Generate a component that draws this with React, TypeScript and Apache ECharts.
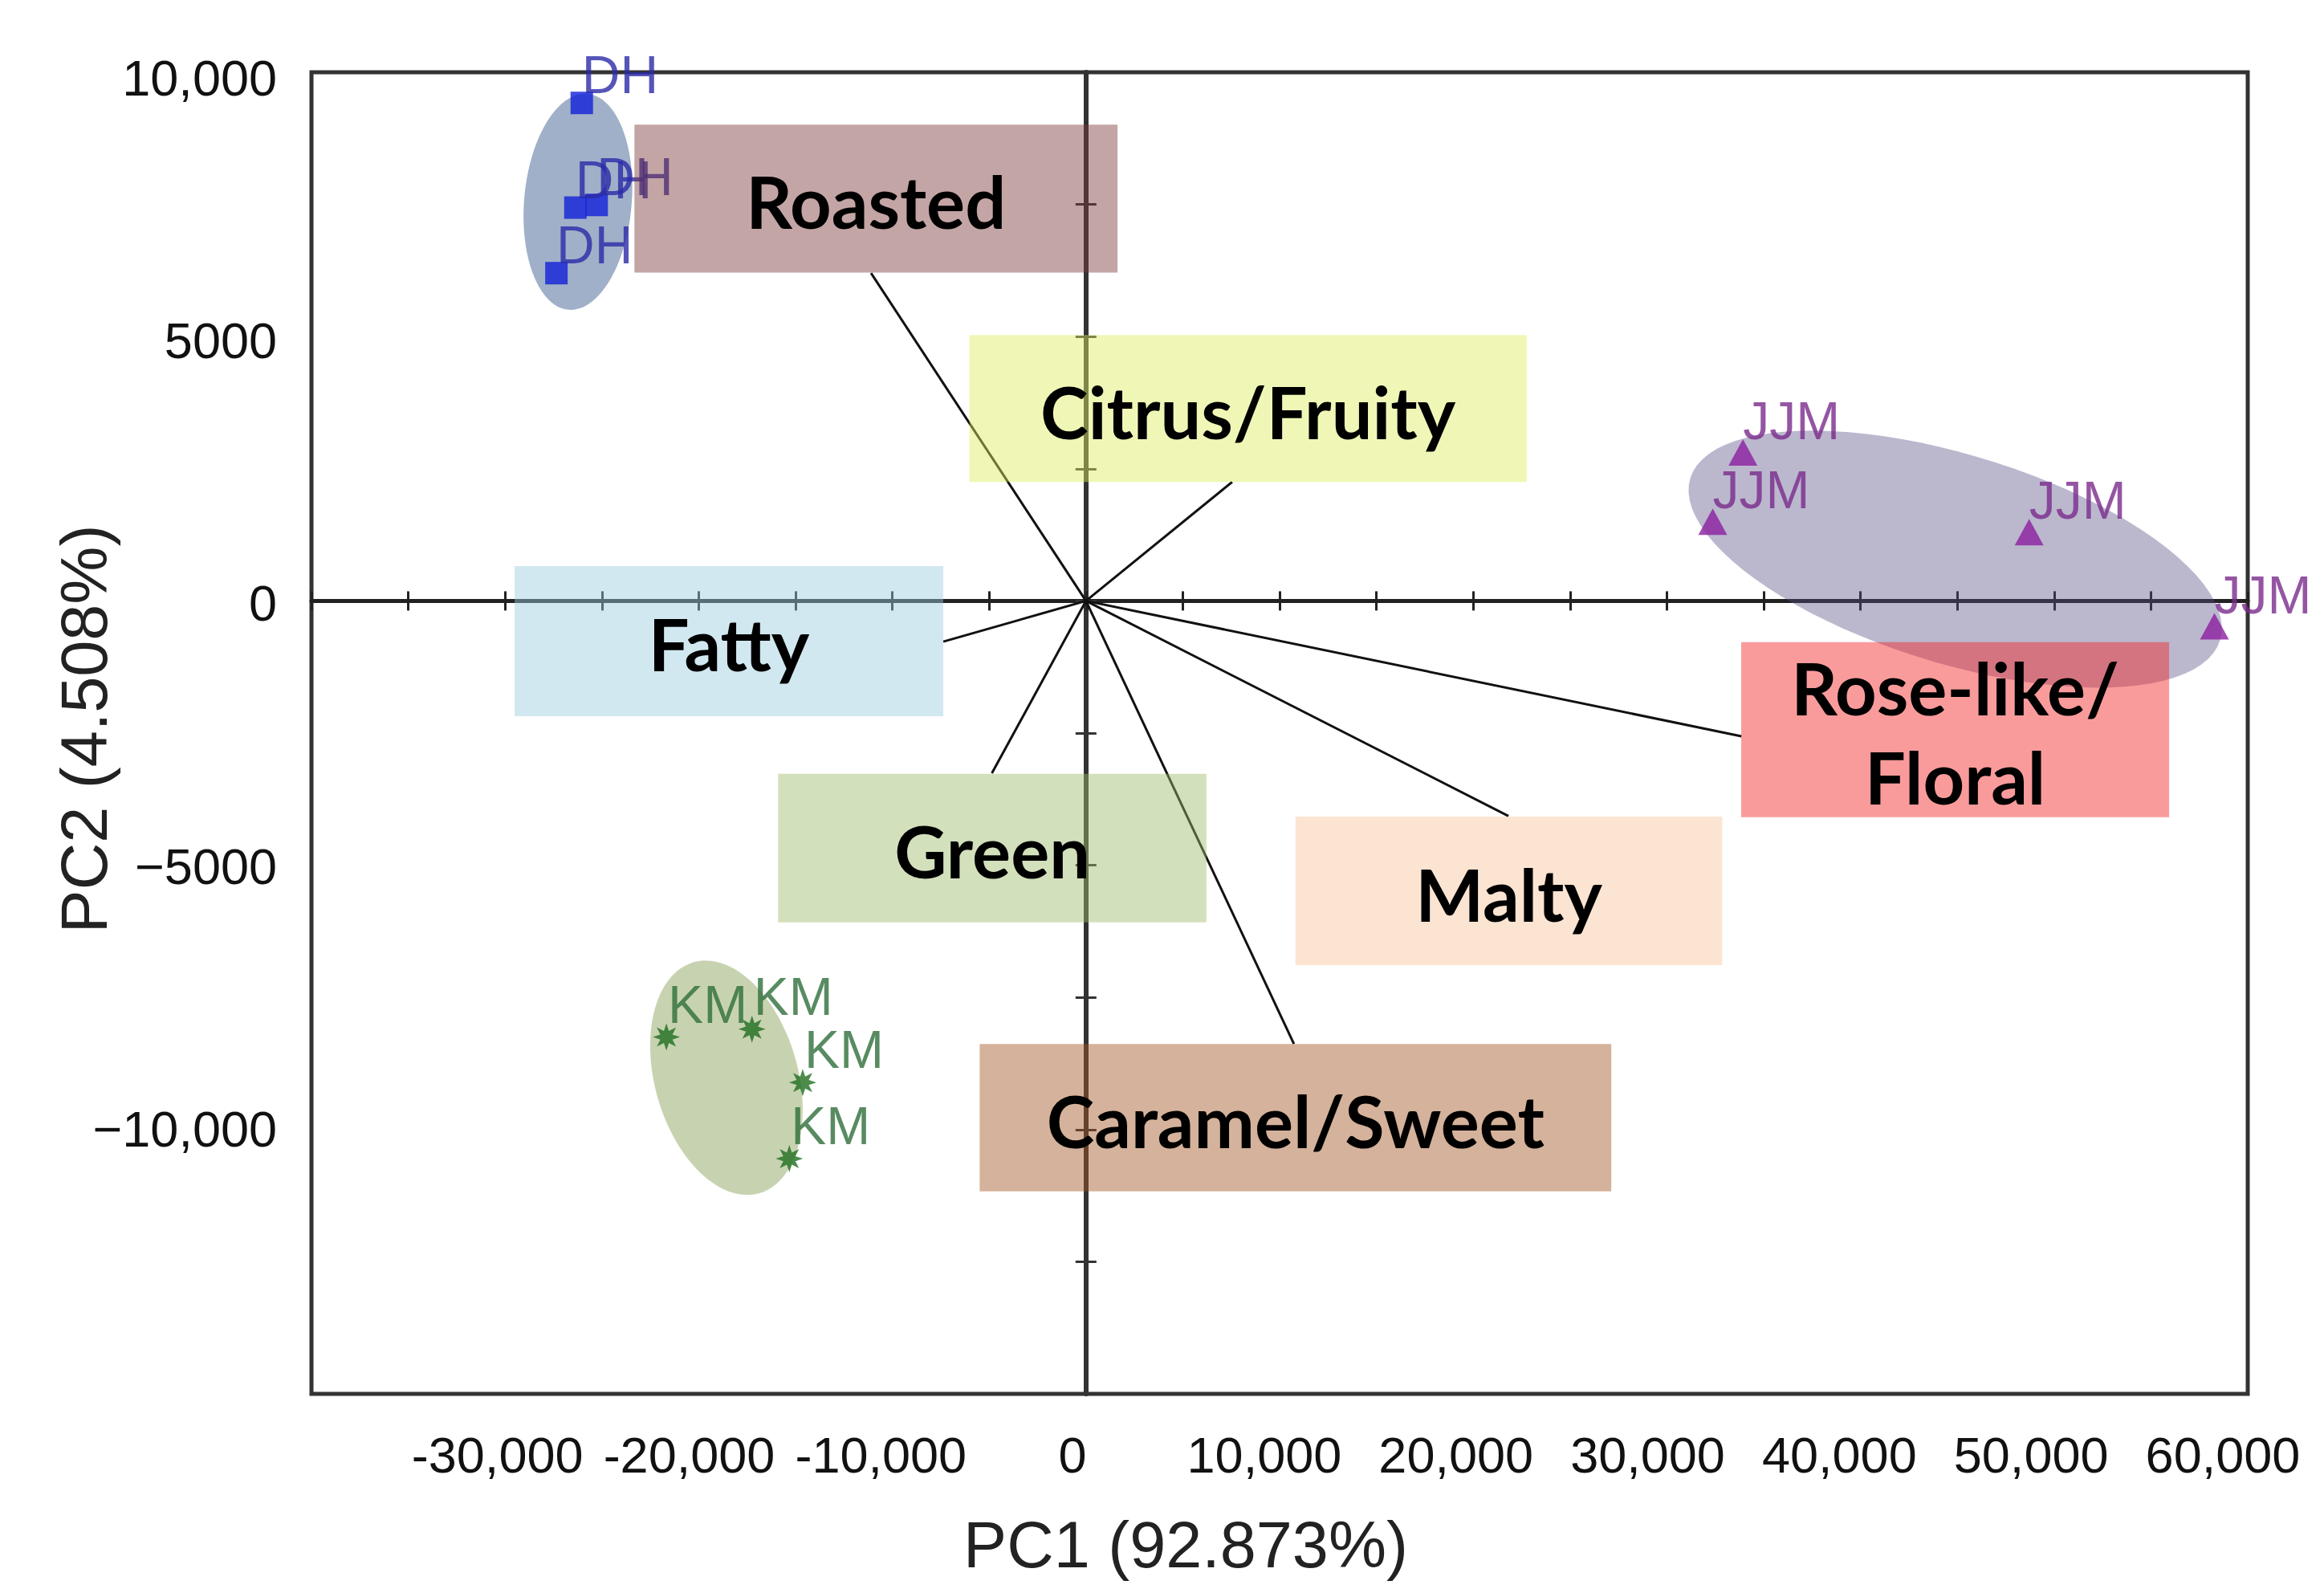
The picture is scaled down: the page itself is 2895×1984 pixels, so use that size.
import React, { useEffect, useRef } from "react";
import * as echarts from "echarts";

// ---- axis tick labels ----
const X_TICK_LABELS = [-30000, -20000, -10000, 0, 10000, 20000, 30000, 40000, 50000, 60000];
const Y_TICK_LABELS = [-10000, -5000, 0, 5000, 10000];

// ---- sample scores (PC1, PC2) ----
const DH_PC1 = [-26040, -26370, -25270, -27350];
const DH_PC2 = [9420, 7440, 7490, 6200];
const JJM_PC1 = [33930, 32370, 48710, 58280];
const JJM_PC2 = [2810, 1500, 1300, -480];
const KM_PC1 = [-21670, -17250, -14630, -15320];
const KM_PC2 = [-8250, -8100, -9110, -10550];

// ---- attribute loadings (vector end points) ----
const ATTRIBUTES = ["Roasted", "Citrus/Fruity", "Fatty", "Green", "Caramel/Sweet", "Malty", "Rose-like/\nFloral"];
const LOAD_PC1 = [-11100, 7550, -7370, -4860, 10740, 21820, 33850];
const LOAD_PC2 = [6200, 2250, -770, -3260, -8380, -4070, -2560];

// ---- attribute label boxes (data units) ----
const BOX_LEFT = [-23320, -6020, -29510, -15900, -5490, 10820, 33840];
const BOX_RIGHT = [1630, 22760, -7370, 6220, 27130, 32860, 55940];
const BOX_TOP = [9010, 5030, 660, -3270, -8380, -4080, -780];
const BOX_BOTTOM = [6210, 2250, -2180, -6080, -11170, -6890, -4090];

// ---- group ellipses: centre + two conjugate half-axis vectors (data units) ----
const ELL_GROUPS = ["DH", "JJM", "KM"];
const ELL_CX = [-26240, 44890, -18570];
const ELL_CY = [7550, 790, -9020];
const ELL_UX = [490, 13680, 1689];
const ELL_UY = [2043, -1532, -2186];
const ELL_VX = [2766, -1576, -3558];
const ELL_VY = [-89, -1888, -369];

const ELL_COLORS = ["rgba(18,58,118,0.4)", "rgba(85,78,133,0.4)", "rgba(115,145,58,0.4)"];
const BOX_COLORS = [
  "rgba(124,55,55,0.45)",
  "rgba(222,237,93,0.45)",
  "rgba(155,204,222,0.45)",
  "rgba(157,186,106,0.45)",
  "rgba(162,84,33,0.45)",
  "rgba(248,195,155,0.45)",
  "rgba(244,33,33,0.45)",
];

const LABEL_FONT = "Liberation Sans";

function asteriskPath(): string {
  const pts: string[] = [];
  const n = 16;
  for (let i = 0; i < n; i++) {
    const a = (i * Math.PI) / 8 - Math.PI / 2;
    const r = i % 2 === 0 ? 50 : 24;
    const x = 50 + r * Math.cos(a);
    const y = 50 + r * Math.sin(a);
    pts.push((i === 0 ? "M" : "L") + x.toFixed(2) + " " + y.toFixed(2));
  }
  return "path://" + pts.join(" ") + " Z";
}

function fmtX(v: number): string {
  if (v === 0) return "0";
  return (v < 0 ? "-" : "") + Math.abs(v).toLocaleString("en-US");
}
function fmtY(v: number): string {
  if (v === 0) return "0";
  const a = Math.abs(v);
  const s = a >= 10000 ? a.toLocaleString("en-US") : String(a);
  return (v < 0 ? "\u2212" : "") + s;
}

export default function App() {
  const ref = useRef<HTMLDivElement>(null);

  useEffect(() => {
    if (!ref.current) return;
    const chart = echarts.init(ref.current, undefined, { renderer: "svg" });

    const zip = (xs: number[], ys: number[]) => xs.map((x, i) => [x, ys[i]]);

    const scatterLabel = (color: string, pos: number[]) => ({
      show: true,
      formatter: (p: any) => p.seriesName,
      position: pos,
      align: "left",
      verticalAlign: "bottom",
      color,
      fontSize: 66,
      fontFamily: LABEL_FONT,
    });

    const option: any = {
      animation: false,
      backgroundColor: "#ffffff",
      grid: {
        left: 388,
        top: 90,
        width: 2412,
        height: 1646,
        show: true,
        borderColor: "#333",
        borderWidth: 5,
        containLabel: false,
      },
      xAxis: [
        {
          type: "value",
          min: -40000,
          max: 60000,
          interval: 5000,
          position: "bottom",
          axisLine: { show: true, onZero: true, onZeroAxisIndex: 0, lineStyle: { color: "#222", width: 5 } },
          axisTick: { show: true, inside: true, length: 12, lineStyle: { color: "#222", width: 3 } },
          axisLabel: { show: false },
          splitLine: { show: false },
        },
        {
          type: "value",
          min: -39700,
          max: 61300,
          position: "bottom",
          axisLine: { show: false, onZero: false },
          axisTick: { show: false },
          splitLine: { show: false },
          axisLabel: {
            show: true,
            customValues: X_TICK_LABELS,
            formatter: fmtX,
            fontSize: 63,
            fontFamily: LABEL_FONT,
            color: "#111",
            margin: 44,
          },
        },
        {
          type: "value",
          min: -40000,
          max: 60000,
          interval: 5000,
          position: "bottom",
          axisLine: { show: false, onZero: true, onZeroAxisIndex: 0 },
          axisTick: { show: true, inside: false, length: 12, lineStyle: { color: "#222", width: 3 } },
          axisLabel: { show: false },
          splitLine: { show: false },
        },
      ],
      yAxis: [
        {
          type: "value",
          min: -15000,
          max: 10000,
          interval: 2500,
          position: "left",
          axisLine: { show: true, onZero: true, onZeroAxisIndex: 0, lineStyle: { color: "#333", width: 6 } },
          axisTick: { show: true, inside: true, length: 13, lineStyle: { color: "#333", width: 3 } },
          axisLabel: { show: false },
          splitLine: { show: false },
        },
        {
          type: "value",
          min: -15050,
          max: 10110,
          position: "left",
          axisLine: { show: false, onZero: false },
          axisTick: { show: false },
          splitLine: { show: false },
          axisLabel: {
            show: true,
            customValues: Y_TICK_LABELS,
            formatter: fmtY,
            fontSize: 63,
            fontFamily: LABEL_FONT,
            color: "#111",
            margin: 43,
          },
        },
        {
          type: "value",
          min: -15000,
          max: 10000,
          interval: 2500,
          position: "left",
          axisLine: { show: false, onZero: true, onZeroAxisIndex: 0 },
          axisTick: { show: true, inside: false, length: 13, lineStyle: { color: "#333", width: 3 } },
          axisLabel: { show: false },
          splitLine: { show: false },
        },
      ],
      graphic: [
        {
          type: "text",
          x: 1477,
          y: 1924,
          style: {
            text: "PC1 (92.873%)",
            fontSize: 81,
            fontFamily: LABEL_FONT,
            fill: "#222",
            align: "center",
            verticalAlign: "middle",
          },
        },
        {
          type: "text",
          x: 105,
          y: 908,
          rotation: Math.PI / 2,
          style: {
            text: "PC2 (4.508%)",
            fontSize: 81,
            fontFamily: LABEL_FONT,
            fill: "#222",
            align: "center",
            verticalAlign: "middle",
          },
        },
      ],
      series: [
        {
          type: "custom",
          name: "ellipses",
          z: 1,
          silent: true,
          data: ELL_GROUPS.map((g, i) => [ELL_CX[i], ELL_CY[i], ELL_UX[i], ELL_UY[i], ELL_VX[i], ELL_VY[i]]),
          renderItem: (params: any, api: any) => {
            const cx = api.value(0), cy = api.value(1);
            const ux = api.value(2), uy = api.value(3);
            const vx = api.value(4), vy = api.value(5);
            const pts: number[][] = [];
            for (let k = 0; k < 90; k++) {
              const t = (2 * Math.PI * k) / 90;
              pts.push(api.coord([cx + ux * Math.cos(t) + vx * Math.sin(t), cy + uy * Math.cos(t) + vy * Math.sin(t)]));
            }
            return { type: "polygon", shape: { points: pts }, style: { fill: ELL_COLORS[params.dataIndex] } };
          },
        },
        {
          type: "custom",
          name: "loadings",
          z: 2,
          silent: true,
          data: zip(LOAD_PC1, LOAD_PC2),
          renderItem: (params: any, api: any) => {
            const o = api.coord([0, 0]);
            const e = api.coord([api.value(0), api.value(1)]);
            return {
              type: "line",
              shape: { x1: o[0], y1: o[1], x2: e[0], y2: e[1] },
              style: { stroke: "#111", lineWidth: 3 },
            };
          },
        },
        {
          type: "scatter",
          name: "DH",
          z: 3,
          data: zip(DH_PC1, DH_PC2),
          symbol: "rect",
          symbolSize: 28,
          itemStyle: { color: "#1020d8" },
          label: scatterLabel("#2a2aa8", [14, 12]),
        },
        {
          type: "scatter",
          name: "JJM",
          z: 3,
          data: zip(JJM_PC1, JJM_PC2),
          symbol: "triangle",
          symbolSize: [36, 33],
          itemStyle: { color: "#8c1ea0" },
          label: scatterLabel("#7a2a8c", [18, 10]),
        },
        {
          type: "scatter",
          name: "KM",
          z: 3,
          data: zip(KM_PC1, KM_PC2),
          symbol: asteriskPath(),
          symbolSize: 34,
          itemStyle: { color: "#1f6e1f" },
          label: scatterLabel("#2e6e3a", [19, 9]),
        },
        {
          type: "custom",
          name: "attributes",
          z: 4,
          silent: true,
          data: ATTRIBUTES.map((a, i) => [BOX_LEFT[i], BOX_TOP[i], BOX_RIGHT[i], BOX_BOTTOM[i]]),
          renderItem: (params: any, api: any) => {
            const i = params.dataIndex;
            const p0 = api.coord([api.value(0), api.value(1)]);
            const p1 = api.coord([api.value(2), api.value(3)]);
            return {
              type: "group",
              children: [
                {
                  type: "rect",
                  shape: { x: p0[0], y: p0[1], width: p1[0] - p0[0], height: p1[1] - p0[1] },
                  style: { fill: BOX_COLORS[i] },
                },
                {
                  type: "text",
                  style: {
                    text: ATTRIBUTES[i],
                    x: (p0[0] + p1[0]) / 2,
                    y: (p0[1] + p1[1]) / 2 + 3,
                    align: "center",
                    verticalAlign: "middle",
                    fontSize: 90,
                    fontWeight: "bold",
                    fontFamily: "Lato",
                    lineHeight: 111,
                    fill: "#000",
                  },
                },
              ],
            };
          },
        },
      ],
    };

    chart.setOption(option);
    return () => chart.dispose();
  }, []);

  return (
    <div
      ref={ref}
      style={{ position: "absolute", left: 0, top: 0, width: 2895, height: 1984, background: "#fff" }}
    />
  );
}
